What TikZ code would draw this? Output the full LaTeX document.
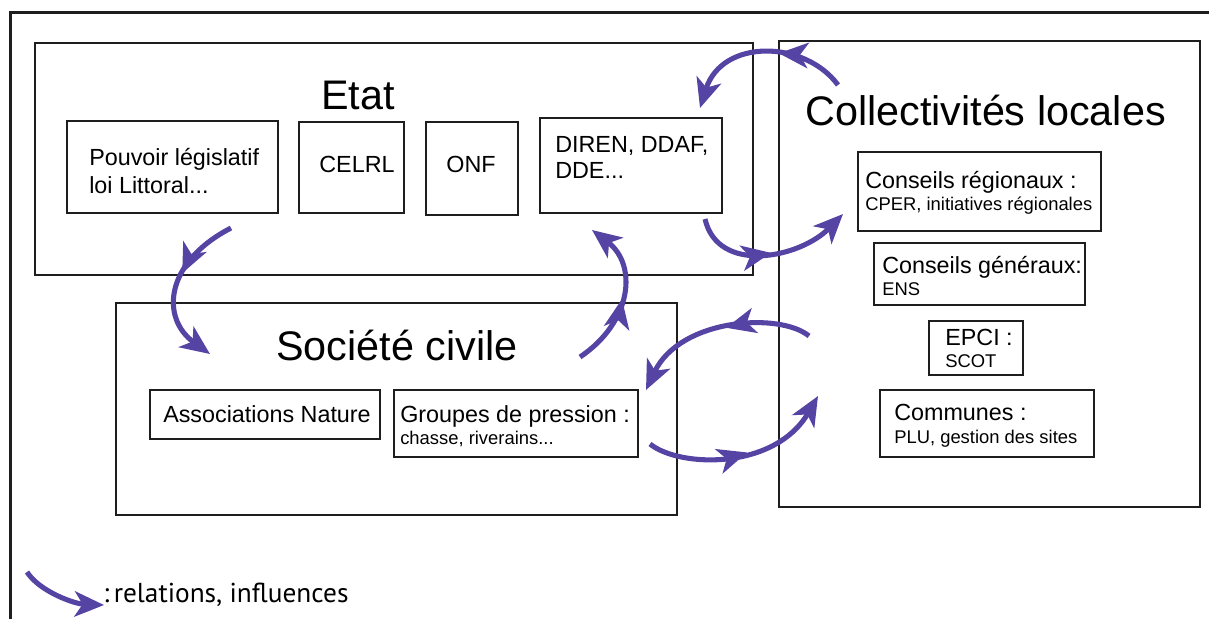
\documentclass[tikz,border=0pt]{standalone}
\usepackage{fontspec}
\setmainfont{Liberation Sans}
\newfontfamily\legendfont{PT Sans}
\usetikzlibrary{arrows.meta,decorations.markings,fit}
\definecolor{arrowpurple}{RGB}{85,68,163}
\definecolor{boxline}{RGB}{30,30,30}
\begin{document}
\begin{tikzpicture}[x=0.75pt,y=-0.75pt,
  frame/.style={draw=boxline, line width=1.4pt, inner sep=0pt},
  titletxt/.style={font=\fontsize{31}{36}\selectfont, inner sep=0pt, anchor=base},
  bigtxt/.style={font=\fontsize{17.5}{21}\selectfont, inner sep=0pt, anchor=base west},
  smalltxt/.style={font=\fontsize{13.8}{16}\selectfont, inner sep=0pt, anchor=base west},
  legendtxt/.style={font=\legendfont\fontsize{20.5}{24}\selectfont, inner sep=0pt, anchor=base west},
  relation/.style={draw=arrowpurple, line width=3.8pt, -{Stealth[length=22pt,width=19pt,inset=6pt]},
    postaction={decorate, decoration={markings,
      mark=at position #1 with {\arrow[arrowpurple]{Stealth[length=22pt,width=19pt,inset=6pt]}}}}},
  relation/.default=0.45
]
\useasboundingbox (0,0) rectangle (1209,619);
\fill[white] (0,0) rectangle (1209,619);
% outer frame (cut by the picture edge)
\draw[boxline, line width=1.8pt] (10.5,619) -- (10.5,12.5) -- (1209,12.5);

% Etat
\node[frame, fit={(35,43) (753,275)}] (etat) {};
\node[titletxt] (etatT) at (358,109) {Etat};
\node[frame, fit={(67,121) (278,213)}] (pouvoir) {};
\node[bigtxt] (pouvoirA) at (89,165) {Pouvoir législatif};
\node[bigtxt] (pouvoirB) at (89,193) {loi Littoral...};
\node[frame, fit={(299,122) (404,213)}] (celrl) {};
\node[bigtxt, anchor=base] (celrlT) at (357,172) {CELRL};
\node[frame, fit={(426,122) (518,215)}] (onf) {};
\node[bigtxt, anchor=base] (onfT) at (471,172) {ONF};
\node[frame, fit={(540,118) (722,213)}] (diren) {};
\node[bigtxt] (direnA) at (555,152) {DIREN, DDAF,};
\node[bigtxt] (direnB) at (555,178) {DDE...};

% Collectivites locales
\node[frame, fit={(779,41) (1200,507)}] (coll) {};
\node[titletxt] (collT) at (985.5,125) {Collectivités locales};
\node[frame, fit={(858,152) (1101,231)}] (region) {};
\node[bigtxt] (regionA) at (865,188) {Conseils régionaux :};
\node[smalltxt] (regionB) at (865,210) {CPER, initiatives régionales};
\node[frame, fit={(874,243) (1085,305)}] (general) {};
\node[bigtxt] (generalA) at (882,273) {Conseils généraux:};
\node[smalltxt] (generalB) at (882,295) {ENS};
\node[frame, fit={(929,321) (1023,375)}] (epci) {};
\node[bigtxt] (epciA) at (945,345) {EPCI :};
\node[smalltxt] (epciB) at (945,367) {SCOT};
\node[frame, fit={(880,390) (1094,457)}] (communes) {};
\node[bigtxt] (communesA) at (894,420) {Communes :};
\node[smalltxt] (communesB) at (894,443) {PLU, gestion des sites};

% Societe civile
\node[frame, fit={(116,303) (677,515)}] (societe) {};
\node[titletxt] (societeT) at (397,360) {Société civile};
\node[frame, fit={(150,390) (380,439)}] (assoc) {};
\node[bigtxt, anchor=base] (assocT) at (267,422) {Associations Nature};
\node[frame, fit={(394,390) (638,457)}] (groupes) {};
\node[bigtxt] (groupesA) at (400,422) {Groupes de pression :};
\node[smalltxt] (groupesB) at (400,444) {chasse, riverains...};

% arrow end points
\coordinate (a1s) at (231,228); \coordinate (a1e) at (210,354);
\coordinate (a2s) at (580,357); \coordinate (a2e) at (592,230);
\coordinate (a3s) at (838,85);  \coordinate (a3e) at (700,108);
\coordinate (a4s) at (705,219); \coordinate (a4e) at (843,214);
\coordinate (a5s) at (809,336); \coordinate (a5e) at (646,390);
\coordinate (a6s) at (650,444); \coordinate (a6e) at (818,396);
\coordinate (lgs) at (27,572);  \coordinate (lge) at (104,605);

% relations
\draw[relation=0.42] (a1s) .. controls (165,262) and (160,318) .. (a1e);
\draw[relation=0.48] (a2s) .. controls (632,322) and (638,265) .. (a2e);
\draw[relation=0.40] (a3s) .. controls (805,40) and (722,38) .. (a3e);
\draw[relation=0.50] (a4s) .. controls (718,275) and (800,258) .. (a4e);
\draw[relation=0.45] (a5s) .. controls (780,312) and (680,318) .. (a5e);
\draw[relation=0.52] (a6s) .. controls (680,468) and (775,470) .. (a6e);

% legend
\draw[draw=arrowpurple, line width=3.8pt, -{Stealth[length=22pt,width=19pt,inset=6pt]}]
  (lgs) .. controls (40,592) and (75,604) .. (lge);
\node[legendtxt] (legendT) at (103,602) {:\,relations, influences};
\end{tikzpicture}
\end{document}
